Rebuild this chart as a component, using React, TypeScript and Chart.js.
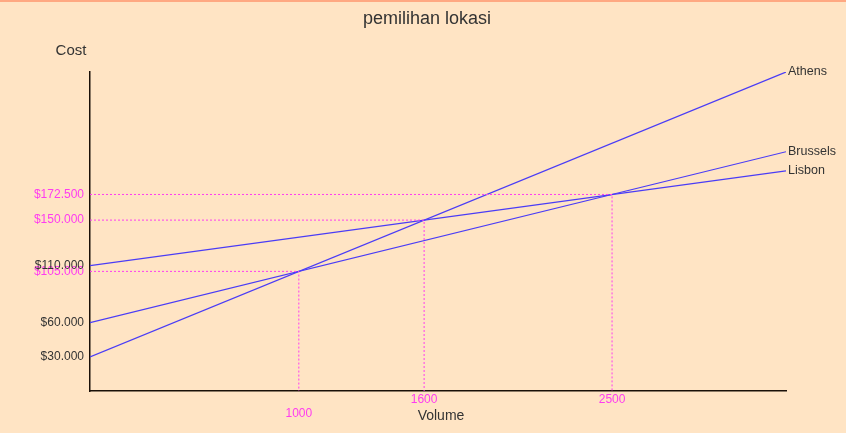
import React, { useEffect, useRef } from "react";
import { Chart, registerables } from "chart.js";

Chart.register(...registerables);

const chartTitle = "pemilihan lokasi";
const yAxisTitle = "Cost";
const xAxisTitle = "Volume";

const volumeRange = [0, 3333];
const seriesNames = ["Athens", "Brussels", "Lisbon"];
const athensCost = [30000, 280000];
const brusselsCost = [60000, 210000];
const lisbonCost = [110000, 193300];

const breakEvenVolume = [1000, 1600, 2500];
const breakEvenCost = [105000, 150000, 172500];

const yTickValues = [30000, 60000, 105000, 110000, 150000, 172500];
const yTickHighlighted = [false, false, true, false, true, true];
const xTickValues = [1000, 1600, 2500];
const xTickRow = [1, 0, 0];

const LINE = "#4a3cf6";
const GUIDE = "#ff3cf0";
const TEXT = "#333333";
const FONT = "'Liberation Sans', Arial, sans-serif";

function fmtMoney(v: number) {
  return "$" + v.toLocaleString("en-US").replace(/,/g, ".");
}

export default function App() {
  const ref = useRef<HTMLCanvasElement>(null);
  useEffect(() => {
    if (!ref.current) return;
    const seriesData = [athensCost, brusselsCost, lisbonCost];
    const lineSets = seriesNames.map((name, i) => ({
      label: name,
      data: volumeRange.map((x, j) => ({ x, y: seriesData[i][j] })),
      borderColor: LINE,
      borderWidth: 1.2,
      pointRadius: 0,
      showLine: true,
      fill: false,
    }));
    const guideSets = breakEvenVolume.map((v, i) => ({
      label: "guide" + i,
      data: [
        { x: 0, y: breakEvenCost[i] },
        { x: v, y: breakEvenCost[i] },
        { x: v, y: 0 },
      ],
      borderColor: GUIDE,
      borderWidth: 1,
      borderDash: [2, 2],
      pointRadius: 0,
      showLine: true,
      fill: false,
    }));

    const deco = {
      id: "deco",
      beforeDraw(chart: any) {
        const c = chart.ctx;
        c.save();
        c.fillStyle = "#ffe4c4";
        c.fillRect(0, 0, chart.width, chart.height);
        c.fillStyle = "#ffa882";
        c.fillRect(0, 0, chart.width, 2);
        c.restore();
      },
      afterDraw(chart: any) {
        const c = chart.ctx;
        const xs = chart.scales.x;
        const ys = chart.scales.y;
        const area = chart.chartArea;
        c.save();
        c.fillStyle = TEXT;
        c.textAlign = "center";
        c.textBaseline = "middle";
        c.font = `18px ${FONT}`;
        c.fillText(chartTitle, 427, 19);
        c.font = `15px ${FONT}`;
        c.fillText(yAxisTitle, 71, 51);
        c.font = `14px ${FONT}`;
        c.fillText(xAxisTitle, (area.left + area.right) / 2 + 3, 416);
        // x tick labels
        c.font = `12px ${FONT}`;
        c.fillStyle = GUIDE;
        xTickValues.forEach((v, i) => {
          c.fillText(String(v), xs.getPixelForValue(v), area.bottom + 9 + xTickRow[i] * 14);
        });
        // series labels
        c.textAlign = "left";
        c.fillStyle = TEXT;
        c.font = `12.5px ${FONT}`;
        const seriesData = [athensCost, brusselsCost, lisbonCost];
        seriesNames.forEach((n, i) => {
          const last = seriesData[i].length - 1;
          c.fillText(n, xs.getPixelForValue(volumeRange[last]) + 2, ys.getPixelForValue(seriesData[i][last]));
        });
        c.restore();
      },
    };

    const chart = new Chart(ref.current, {
      type: "scatter",
      data: { datasets: [...guideSets, ...lineSets] as any },
      options: {
        animation: false,
        responsive: false,
        events: [],
        layout: { padding: { left: 0, right: 60, top: 72, bottom: 0 } },
        plugins: { legend: { display: false }, tooltip: { enabled: false }, title: { display: false } },
        scales: {
          x: {
            type: "linear",
            min: volumeRange[0],
            max: volumeRange[1],
            grid: { display: false, drawTicks: false },
            border: { display: true, color: "#1a1008", width: 1.5 },
            ticks: { display: false },
            afterFit(s: any) {
              s.height = 42;
            },
          },
          y: {
            type: "linear",
            min: 0,
            max: 280000,
            grid: { display: false, drawTicks: false },
            border: { display: true, color: "#1a1008", width: 1.5 },
            afterBuildTicks(s: any) {
              s.ticks = yTickValues.map((v) => ({ value: v }));
            },
            ticks: {
              autoSkip: false,
              padding: 6,
              font: { family: FONT, size: 12 },
              color: (ctx: any) => {
                const idx = yTickValues.indexOf(ctx.tick ? ctx.tick.value : -1);
                return idx >= 0 && yTickHighlighted[idx] ? GUIDE : TEXT;
              },
              callback: (v: any) => fmtMoney(Number(v)),
            },
            afterFit(s: any) {
              s.width = 90;
            },
          },
        },
      },
      plugins: [deco],
    });
    return () => chart.destroy();
  }, []);
  return (
    <div style={{ position: "absolute", left: 0, top: 0, width: 846, height: 433 }}>
      <canvas ref={ref} width={846} height={433} style={{ display: "block" }} />
    </div>
  );
}
